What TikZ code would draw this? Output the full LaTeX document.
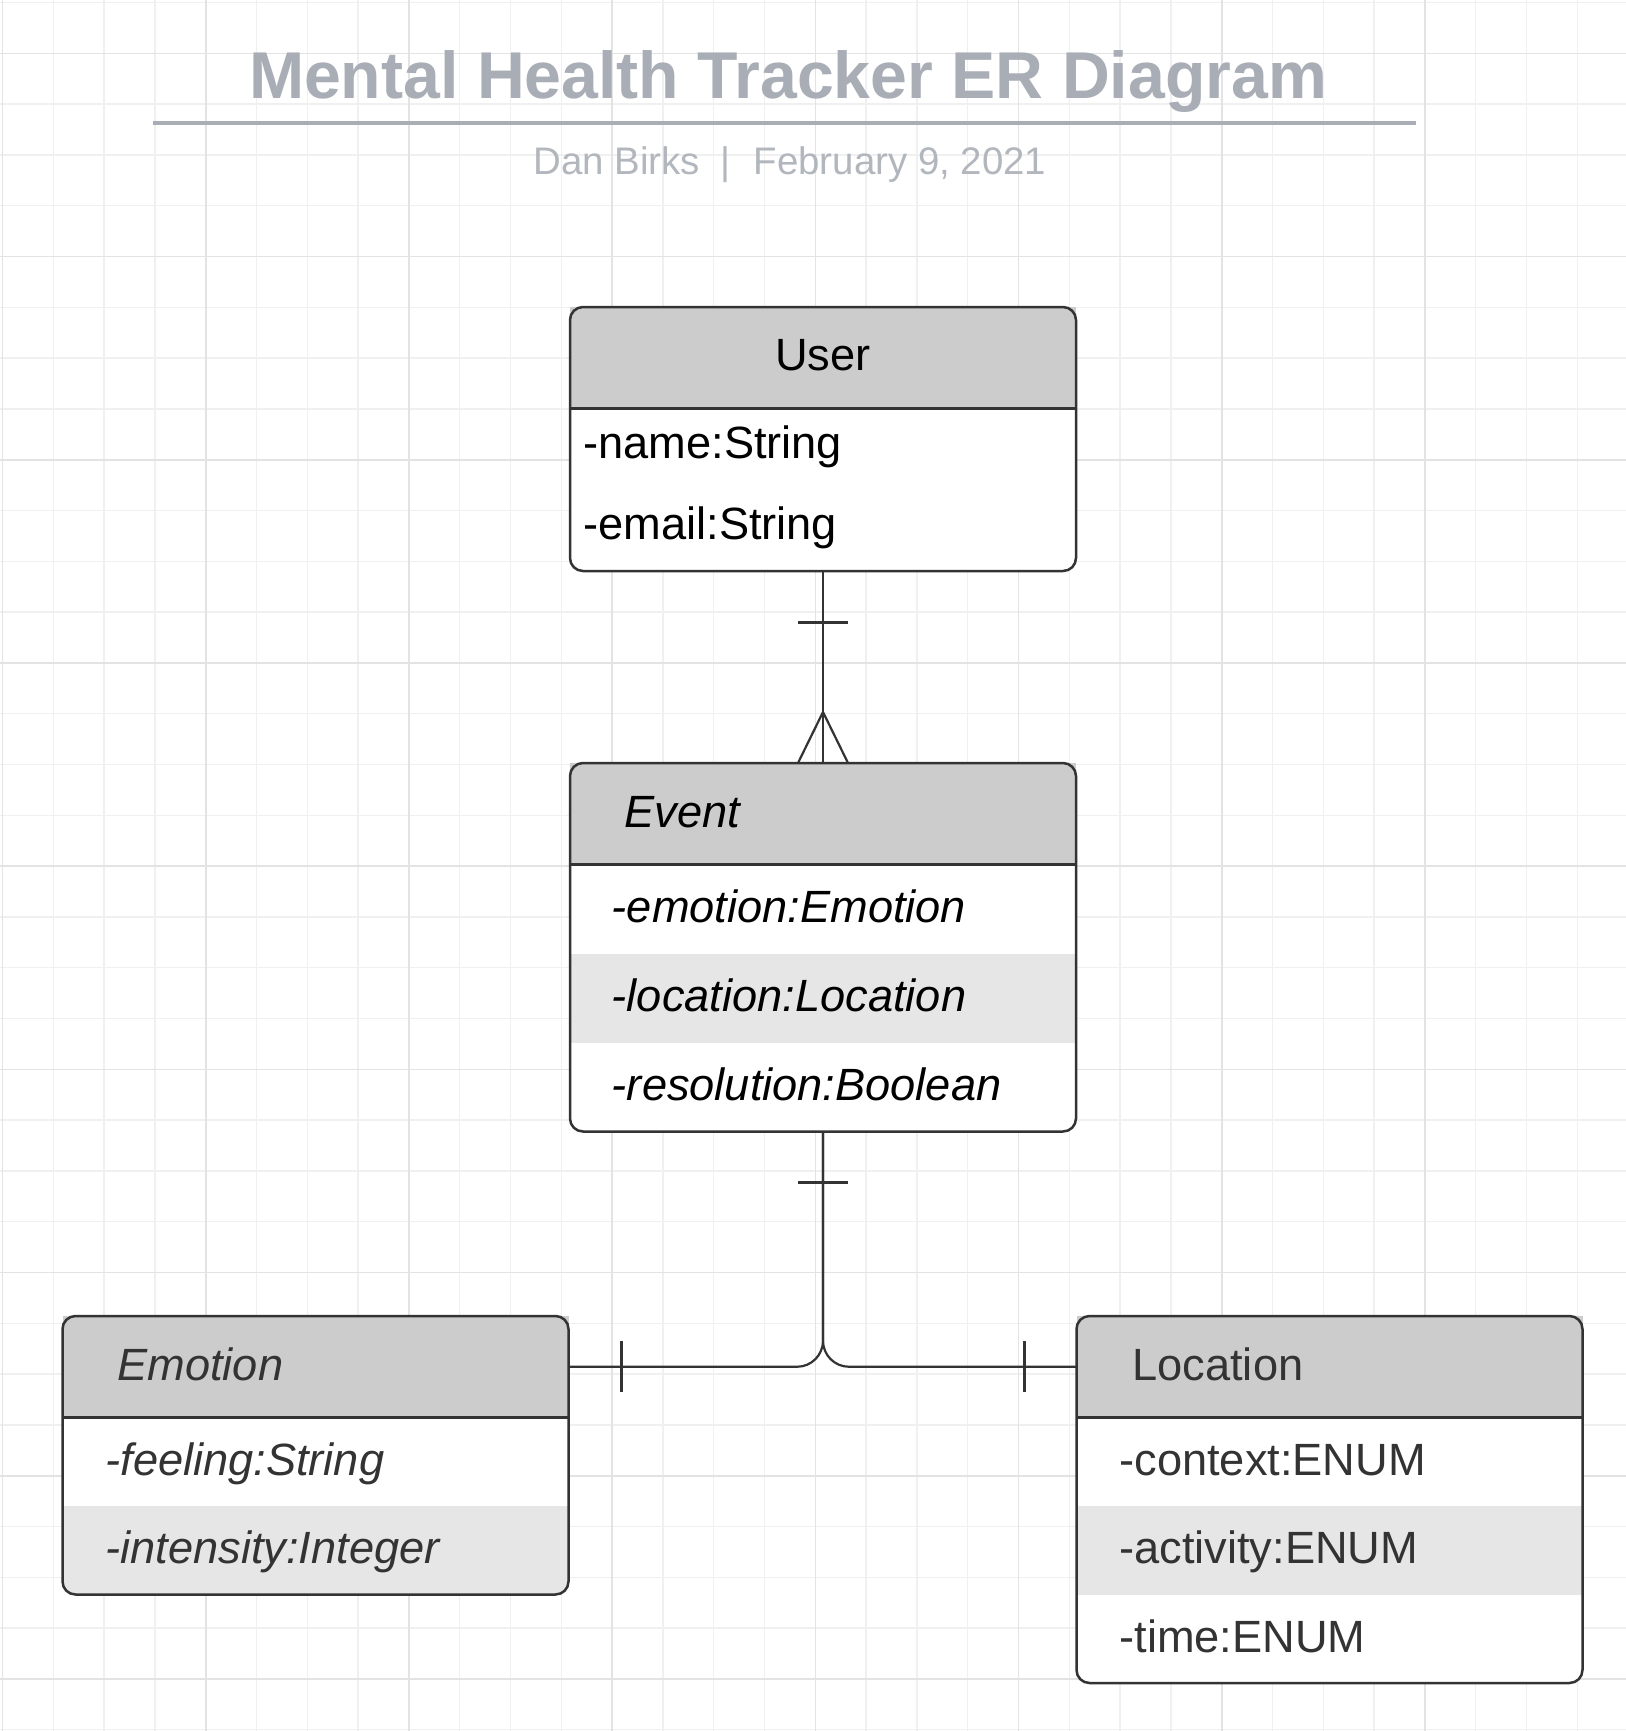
\documentclass[tikz,border=0pt]{standalone}
\usepackage{fontspec}
\setmainfont{Liberation Sans}
\usetikzlibrary{calc}
\definecolor{gridminor}{HTML}{F0F0F0}
\definecolor{gridmajor}{HTML}{E3E3E3}
\definecolor{titlegray}{HTML}{A9ADB5}
\definecolor{subgray}{HTML}{B2B6BD}
\definecolor{hdrgray}{HTML}{CCCCCC}
\definecolor{rowgray}{HTML}{E6E6E6}
\definecolor{linegray}{HTML}{333333}

\begin{document}
\begin{tikzpicture}[x=0.5pt,y=-0.5pt,
  minorline/.style={draw=gridminor,line width=0.7pt},
  majorline/.style={draw=gridmajor,line width=0.8pt},
  entbox/.style={rectangle,rounded corners=6.5pt,fill=white,inner sep=0pt,outer sep=0pt,minimum width=253pt},
  hdrfill/.style={fill=hdrgray},
  rowfill/.style={fill=rowgray},
  boxline/.style={draw=linegray,line width=1.25pt},
  conn/.style={draw=linegray,line width=1.1pt},
  hdrtext/.style={inner sep=0pt,font=\fontsize{22.6}{27}\selectfont},
  attrtext/.style={inner sep=0pt,anchor=base west,font=\fontsize{22.6}{27}\selectfont}]
  \useasboundingbox (0,0) rectangle (1626,1731);
  \fill[white] (0,0) rectangle (1626,1731);
  \foreach \i in {0,...,32} \draw[minorline] ({2.5+50.8*\i},0)--++(0,1731);
  \foreach \j in {0,...,34} \draw[minorline] (0,{2.5+50.8*\j})--++(1626,0);
  \foreach \i in {0,...,8} \draw[majorline] ({2.5+203.2*\i},0)--++(0,1731);
  \foreach \j in {0,...,8} \draw[majorline] (0,{53.3+203.2*\j})--++(1626,0);

  \node[anchor=base,inner sep=0pt,text=titlegray,font=\fontsize{33.1}{40}\selectfont\bfseries] (title) at (788,98.5) {Mental Health Tracker ER Diagram};
  \draw[draw=titlegray,line width=2.3pt] (153,123)--(1416,123);
  \node[anchor=base west,inner sep=0pt,text=subgray,font=\fontsize{19.2}{23}\selectfont] (byline) at (533,174) {Dan Birks\hspace{10.5pt}|\hspace{11.5pt}February 9, 2021};

  \node[entbox,minimum height=132pt] (user) at (823,439) {};
  \fill[hdrfill] (user.north west) rectangle ($(user.north east)+(0,101.5)$);
  \draw[boxline] ($(user.north west)+(0,101.5)$)--($(user.north east)+(0,101.5)$);
  \draw[boxline,rounded corners=6.5pt] (user.north west) rectangle (user.south east);
  \node[hdrtext,anchor=base] (usertitle) at (823,370) {User};
  \node[attrtext] (username) at (583,458.5) {-name:String};
  \node[attrtext] (useremail) at (583,539) {-email:String};

  \node[entbox,minimum height=184.25pt] (event) at (823,947.25) {};
  \fill[hdrfill] (event.north west) rectangle ($(event.north east)+(0,101.5)$);
  \fill[rowfill] ($(event.north west)+(0,190.5)$) rectangle ($(event.north east)+(0,279.5)$);
  \draw[boxline] ($(event.north west)+(0,101.5)$)--($(event.north east)+(0,101.5)$);
  \draw[boxline,rounded corners=6.5pt] (event.north west) rectangle (event.south east);
  \node[attrtext,font=\fontsize{22.6}{27}\selectfont\itshape] (eventtitle) at (624,827) {Event};
  \node[attrtext,font=\fontsize{22.6}{27}\selectfont\itshape] (eventemotion) at (611.5,922.5) {-emotion:Emotion};
  \node[attrtext,font=\fontsize{22.6}{27}\selectfont\itshape] (eventlocation) at (611.5,1011.5) {-location:Location};
  \node[attrtext,font=\fontsize{22.6}{27}\selectfont\itshape] (eventresolution) at (611.5,1100.5) {-resolution:Boolean};

  \node[entbox,minimum height=139.25pt] (emotion) at (315.5,1455.25) {};
  \fill[hdrfill] (emotion.north west) rectangle ($(emotion.north east)+(0,101.5)$);
  \begin{scope}
    \clip[rounded corners=6.5pt] (emotion.north west) rectangle (emotion.south east);
    \fill[rowfill] ($(emotion.north west)+(0,190)$) rectangle (emotion.south east);
  \end{scope}
  \draw[boxline] ($(emotion.north west)+(0,101.5)$)--($(emotion.north east)+(0,101.5)$);
  \draw[boxline,rounded corners=6.5pt] (emotion.north west) rectangle (emotion.south east);
  \node[attrtext,text=linegray,font=\fontsize{22.6}{27}\selectfont\itshape] (emotiontitle) at (117,1380) {Emotion};
  \node[attrtext,text=linegray,font=\fontsize{22.6}{27}\selectfont\itshape] (emotionfeeling) at (105,1475) {-feeling:String};
  \node[attrtext,text=linegray,font=\fontsize{22.6}{27}\selectfont\itshape] (emotionintensity) at (105,1563) {-intensity:Integer};

  \node[entbox,minimum height=183.5pt] (location) at (1329.5,1499.5) {};
  \fill[hdrfill] (location.north west) rectangle ($(location.north east)+(0,101.5)$);
  \fill[rowfill] ($(location.north west)+(0,190)$) rectangle ($(location.north east)+(0,278.5)$);
  \draw[boxline] ($(location.north west)+(0,101.5)$)--($(location.north east)+(0,101.5)$);
  \draw[boxline,rounded corners=6.5pt] (location.north west) rectangle (location.south east);
  \node[attrtext,text=linegray] (locationtitle) at (1132,1380) {Location};
  \node[attrtext,text=linegray] (locationcontext) at (1119,1475) {-context:ENUM};
  \node[attrtext,text=linegray] (locationactivity) at (1119,1563) {-activity:ENUM};
  \node[attrtext,text=linegray] (locationtime) at (1119,1652) {-time:ENUM};

  \coordinate (emotionport) at ($(emotion.north east)+(0,50.75)$);
  \coordinate (locationport) at ($(location.north west)+(0,50.75)$);
  \draw[conn] (user.south)--(event.north);
  \draw[conn] ($(user.south)+(-25,51.5)$)--++(50,0);
  \draw[conn] ($(event.north)+(-25,0)$)--($(event.north)+(0,-51)$)--($(event.north)+(25,0)$);
  \draw[conn,rounded corners=13pt] (event.south) |- (emotionport);
  \draw[conn,rounded corners=13pt] (event.south) |- (locationport);
  \draw[conn] ($(event.south)+(-25,51)$)--++(50,0);
  \draw[conn] ($(emotionport)+(53,-25.5)$)--++(0,51);
  \draw[conn] ($(locationport)+(-52,-25.5)$)--++(0,51);
\end{tikzpicture}
\end{document}
